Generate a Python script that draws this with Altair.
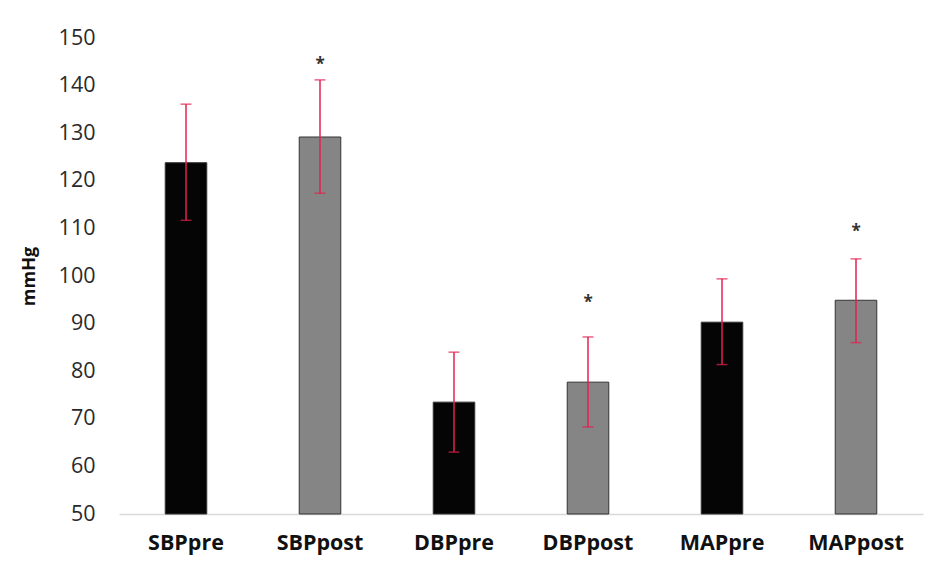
import altair as alt
import pandas as pd

categories = ["SBPpre", "SBPpost", "DBPpre", "DBPpost", "MAPpre", "MAPpost"]
means = [123.8, 129.2, 73.5, 77.7, 90.3, 94.9]
err_low = [111.7, 117.4, 63.0, 68.3, 81.4, 86.0]
err_high = [136.1, 141.2, 84.0, 87.2, 99.4, 103.6]
bar_fill = ["#050505", "#858585", "#050505", "#858585", "#050505", "#858585"]
star_y = [None, 144.3, None, 94.4, None, 109.2]
axis_min = 50

df = pd.DataFrame({
    "cat": categories, "mean": means, "lo": err_low, "hi": err_high,
    "fill": bar_fill,
})
stars = pd.DataFrame({"cat": categories, "y": star_y}).dropna()
stars["s"] = "*"

font = "Open Sans"
x = alt.X("cat:N", sort=categories, title=None,
          scale=alt.Scale(paddingInner=0.69, paddingOuter=0.345),
          axis=alt.Axis(labelAngle=0, labelFontSize=21.5, labelFontWeight="bold",
                        labelColor="#111", labelFont=font, labelPadding=18,
                        ticks=False, domainColor="#d9d9d9", domainWidth=1.5))
yscale = alt.Scale(domain=[50, 150], nice=False, zero=False)
y = alt.Y("mean:Q", scale=yscale, title="mmHg",
          axis=alt.Axis(values=list(range(50, 151, 10)), grid=False, domain=False,
                        ticks=False, labelFontSize=21.5, labelColor="#2a2a2a",
                        labelFont=font, labelPadding=24, titleFontSize=18,
                        titleFont=font, titleFontWeight="bold", titleColor="#111",
                        titlePadding=20))

base = alt.Chart(df)
bars = base.mark_bar(stroke="#333", strokeWidth=1).encode(
    x=x, y=y, y2=alt.datum(axis_min), color=alt.Color("fill:N", scale=None))
rule = base.mark_rule(color="#e3204f", strokeWidth=1.5).encode(
    x=alt.X("cat:N", sort=categories), y=alt.Y("lo:Q", scale=yscale), y2="hi:Q")
cap_hi = base.mark_tick(color="#e3204f", thickness=1.5, size=11, orient="horizontal").encode(
    x=alt.X("cat:N", sort=categories), y=alt.Y("hi:Q", scale=yscale))
cap_lo = base.mark_tick(color="#e3204f", thickness=1.5, size=11, orient="horizontal").encode(
    x=alt.X("cat:N", sort=categories), y=alt.Y("lo:Q", scale=yscale))
star = alt.Chart(stars).mark_text(fontSize=17, fontWeight="bold", color="#333", font=font,
                                  baseline="middle").encode(
    x=alt.X("cat:N", sort=categories), y=alt.Y("y:Q", scale=yscale), text="s:N")

chart = alt.layer(bars, rule, cap_hi, cap_lo, star).properties(
    width=804, height=476,
    autosize=alt.AutoSizeParams(type="none"),
    padding={"left": 119, "top": 38, "right": 18, "bottom": 54},
    background="white",
).configure_view(stroke=None)

chart.save("out.html", embed_options={"renderer": "svg", "actions": False})
